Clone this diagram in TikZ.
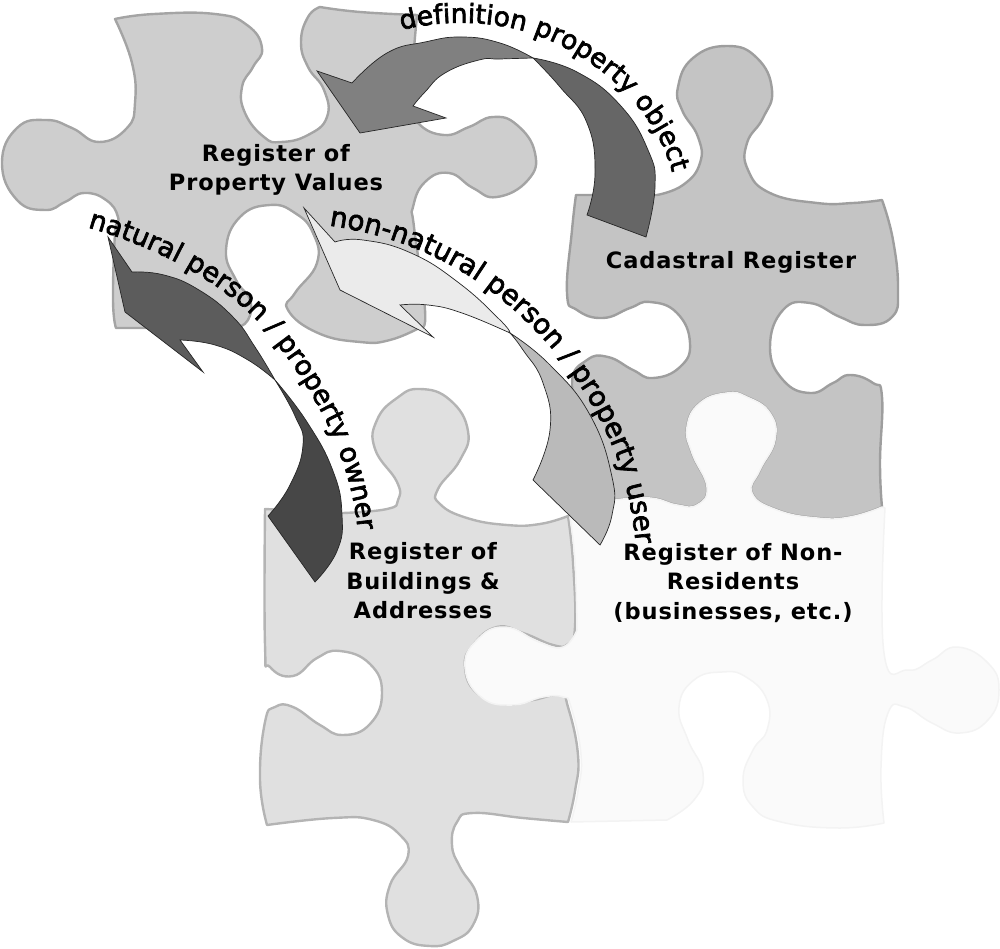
\documentclass[tikz,border=0pt]{standalone}
\usepackage{fontspec}
\usetikzlibrary{decorations.text}
\newfontfamily\labelfont[LetterSpace=4,Ligatures=NoCommon]{DejaVu Sans Bold}
\newfontfamily\curvefont[FakeBold=2.5]{DejaVu Sans}
\definecolor{valuesfill}{HTML}{CECECE}
\definecolor{valuesedge}{HTML}{A4A4A4}
\definecolor{cadastralfill}{HTML}{C4C4C4}
\definecolor{cadastraledge}{HTML}{9E9E9E}
\definecolor{buildingsfill}{HTML}{E0E0E0}
\definecolor{buildingsedge}{HTML}{B4B4B4}
\definecolor{residentsfill}{HTML}{FAFAFA}
\definecolor{residentsedge}{HTML}{F3F3F3}
\tikzset{
  piece/.style={line width=2.4pt,line join=round},
  ribbon/.style={draw=black!85,line width=0.7pt,line join=miter},
  regname/.style={font=\fontsize{22.5}{29.5}\selectfont\labelfont,align=center,text=black,inner sep=0pt},
  curvetext/.style={decorate,decoration={text along path,text align=center,
    text={#1}}},
  soft/.style={smooth,tension=0.8}
}
\begin{document}
\begin{tikzpicture}[x=1pt,y=-1pt]
  \useasboundingbox (0,0) rectangle (1000,949);

  % Register of Property Values
  \draw[piece,fill=valuesfill,draw=valuesedge]
    plot[soft] coordinates {(115,19) (154,14) (215,14) (247,25) (262,48) (253,67) (242,87) (245,113) (264,137) (281,142) (308,135) (327,117) (324,90) (308,67) (301,42) (308,17) (320,7)}
    -- plot[soft] coordinates {(320,7) (360,12) (417,15)}
    -- plot[soft] coordinates {(417,15) (413,60) (410,100) (418,123) (444,135) (469,127) (493,117) (517,125) (535,153) (528,180) (497,197) (473,188) (449,173) (425,182) (413,207) (414,227) (425,310) (421,327)}
    -- plot[soft] coordinates {(421,327) (390,340) (360,342) (318,333) (288,310) (295,293) (317,263) (313,233) (295,213) (270,205) (240,217) (226,250) (236,280) (250,300) (248,320) (236,328)}
    -- (116,328)
    -- plot[soft] coordinates {(116,328) (113,300) (115,233) (118,217) (106,200) (84,193) (65,202) (45,210) (17,200) (2,163) (17,128) (46,120) (72,128) (99,142) (127,128) (135,103) (132,63) (115,19)}
    -- cycle;

  % Cadastral Register
  \draw[piece,fill=cadastralfill,draw=cadastraledge]
    (576,195) -- (657,195)
    -- plot[soft] coordinates {(657,195) (683,185) (700,163) (698,137) (682,110) (678,87) (693,58) (727,46) (757,58) (772,90) (763,118) (747,143) (748,170) (770,193) (817,203) (853,203) (882,200)}
    -- plot[soft] coordinates {(882,200) (893,240) (898,290) (892,317) (865,325) (840,317) (810,303) (783,310) (770,347) (783,380) (810,393) (833,383) (850,375) (873,383) (882,397) (880,463) (882,507)}
    -- plot[soft] coordinates {(882,507) (850,517) (817,518) (777,510) (752,493) (760,470) (775,440) (770,413) (747,397) (727,393) (700,403) (687,427) (692,453) (707,487) (697,505) (677,505) (650,498) (615,500)}
    -- (600,500)
    -- plot[soft] coordinates {(600,500) (600,480) (585,430) (572,383) (587,360) (608,357) (633,370) (653,378) (680,367) (690,343) (677,313) (650,302) (630,308) (603,318) (577,310) (567,293) (572,230) (576,195)}
    -- cycle;

  % Register of Buildings & Addresses
  \draw[piece,fill=buildingsfill,draw=buildingsedge]
    (265,509) -- (343,513)
    -- plot[soft] coordinates {(343,513) (387,509) (398,500) (397,482) (375,449) (377,420) (397,398) (420,389) (450,400) (468,431) (460,460) (438,489) (440,504) (467,518) (507,525) (540,524) (568,516)}
    -- plot[soft] coordinates {(568,516) (573,562) (575,627) (568,644) (553,645) (523,633) (497,627) (473,645) (465,667) (477,693) (507,704) (533,700) (560,695) (568,707) (578,755) (575,791) (568,822)}
    -- plot[soft] coordinates {(568,822) (523,818) (473,813) (457,822) (452,845) (460,867) (477,896) (473,925) (453,941) (430,946) (403,938) (388,915) (390,885) (408,856) (400,835) (373,820) (333,818) (267,825)}
    -- plot[soft] coordinates {(267,825) (260,780) (265,722) (275,707) (293,707) (320,725) (343,735) (370,724) (382,693) (370,664) (340,651) (317,658) (293,676) (270,667) (265,645) (265,509)}
    -- cycle;

  % Register of Non-Residents
  \draw[piece,line width=1.5pt,fill=residentsfill,draw=residentsedge]
    (570,518) -- (615,500)
    -- plot[soft] coordinates {(615,500) (650,498) (677,505) (697,505) (707,487) (692,453) (687,427) (700,403) (727,393) (747,397) (770,413) (775,440) (760,470) (752,493) (777,510) (817,518) (850,517) (882,507)}
    -- plot[soft] coordinates {(885,508) (884,653) (908,670) (932,660) (957,647) (988,663) (999,690) (988,720) (960,733) (932,723) (905,707) (888,713) (881,767) (884,823)}
    -- plot[soft] coordinates {(884,823) (839,828) (781,822) (753,807) (743,780) (753,750) (767,730) (767,700) (746,677) (722,672) (694,680) (679,707) (688,740) (703,773) (694,800) (667,820)}
    -- (571,822)
    -- plot[soft] coordinates {(571,822) (578,791) (581,755) (571,707) (563,697) (543,697) (512,705) (481,697) (465,667) (477,640) (505,627) (539,642) (563,647) (577,630)}
    -- plot[soft] coordinates {(577,630) (575,562) (570,518)}
    -- cycle;

  % definition arrow
  \filldraw[ribbon,fill=black!50]
    (317,71) -- (352,83)
    -- plot[soft] coordinates {(352,83) (387,53) (425,42) (462,37) (500,43) (533,58)}
    -- plot[soft] coordinates {(533,58) (500,59) (479,60) (445,73) (425,92) (413,106)}
    -- (446,118) -- (360,133) -- cycle;
  \filldraw[ribbon,fill=black!60]
    plot[soft] coordinates {(533,58) (577,72) (620,105) (648,150) (655,187) (646,237)}
    -- (587,215)
    -- plot[soft] coordinates {(587,215) (595,173) (587,123) (560,87) (533,58)}
    -- cycle;

  % natural person arrow
  \filldraw[ribbon,fill=black!64]
    (108,237) -- (132,272)
    -- plot[soft] coordinates {(132,272) (164,275) (199,290) (233,317) (255,347) (275,380)}
    -- plot[soft] coordinates {(275,380) (248,360) (215,345) (180,340)}
    -- (203,372) -- (125,312) -- cycle;
  \filldraw[ribbon,fill=black!72]
    plot[soft] coordinates {(275,380) (307,422) (333,471) (342,515) (337,551) (315,582)}
    -- (268,516)
    -- plot[soft] coordinates {(268,516) (290,485) (303,445) (295,416) (275,380)}
    -- cycle;

  % non-natural person arrow
  \filldraw[ribbon,fill=black!8]
    (304,208) -- (335,242)
    -- plot[soft] coordinates {(335,242) (363,240) (411,253) (459,283) (500,320) (510,333)}
    -- plot[soft] coordinates {(510,333) (462,313) (428,305) (400,305)}
    -- (433,337) -- (340,290) -- cycle;
  \filldraw[ribbon,fill=black!27]
    plot[soft] coordinates {(510,333) (550,365) (590,415) (612,477) (612,515) (600,545)}
    -- (533,480)
    -- plot[soft] coordinates {(533,480) (550,430) (543,383) (523,350) (510,333)}
    -- cycle;

  \node[regname] (values) at (276,170) {Register of\\Property Values};
  \node[regname] (cadastral) at (731,262) {Cadastral Register};
  \node[regname] (buildings) at (423,581) {Register of\\Buildings \&\\Addresses};
  \node[regname] (residents) at (733,583) {Register of Non-\\Residents\\(businesses, etc.)};

  \path[curvetext={|\fontsize{26.5}{26.5}\curvefont|definition property object}]
    (402,30) .. controls (440,20) and (490,20) .. (530,33) .. controls (590,52) and (655,105) .. (672,172);
  \path[curvetext={|\fontsize{27}{27}\curvefont|natural person / property owner}]
    (86,227) .. controls (150,245) and (225,280) .. (270,335) .. controls (310,385) and (350,450) .. (358,532);
  \path[curvetext={|\fontsize{27.5}{27.5}\curvefont|non-natural person / property user}]
    (325,225) .. controls (400,235) and (470,265) .. (530,325) .. controls (590,385) and (630,460) .. (636,548);
\end{tikzpicture}
\end{document}
